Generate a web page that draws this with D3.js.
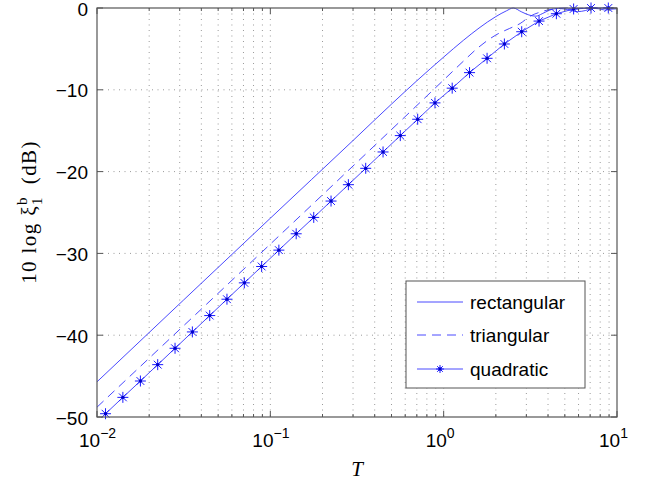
<!DOCTYPE html>
<html lang="en">
<head>
    <meta charset="UTF-8">
    <title>Reconstructed chart</title>
    <script src="https://d3js.org/d3.v7.min.js"></script>
    <style>
        body { margin: 0; background: #fff; }
        .grid line { stroke: #9a9a9a; stroke-width: 1; stroke-dasharray: 1,4.5; }
        .tick-label { font-family: "Liberation Sans", Arial, sans-serif; font-size: 19px; fill: #000; }
        .series { fill: none; stroke: #2a2aff; stroke-width: 1; stroke-opacity: 0.85; }
        .legend-text { font-family: "Liberation Sans", Arial, sans-serif; font-size: 19px; fill: #000; }
    </style>
</head>
<body>
    <svg width="657" height="484"></svg>
    <script>
        // data: T and 10log xi (dB)
        const rectT  = [0.01, 0.1, 0.3, 0.5, 0.7, 1.0, 1.3, 1.6, 2.0, 2.3, 2.52, 2.8, 3.1, 3.4, 3.7, 4.1, 4.6, 5.2, 5.9, 6.6, 7.2, 7.9, 8.5, 9.2, 10];
        const rectDB = [-45.7, -25.7, -16.2, -11.75, -8.9, -6.0, -3.95, -2.45, -1.05, -0.35, 0, -0.45, -0.85, -1.0, -0.7, -0.25, -0.05, -0.2, -0.45, -0.3, -0.05, -0.1, -0.25, -0.15, -0.1];

        const triT  = [0.01, 1.0, 1.3, 1.55, 2.0, 2.4, 2.76, 3.16, 3.6, 4.2, 5.0, 6.0, 7.0, 10];
        const triDB = [-48.8, -8.8, -6.5, -5.0, -3.3, -2.5, -1.9, -1.0, -0.5, -0.15, 0, -0.05, 0, 0];

        const quadT  = [0.0112, 0.0141, 0.0178, 0.0224, 0.0282, 0.0355, 0.0447, 0.0562, 0.0708, 0.0891,
                        0.112, 0.141, 0.178, 0.224, 0.282, 0.355, 0.447, 0.562, 0.708, 0.891,
                        1.12, 1.41, 1.78, 2.24, 2.82, 3.55, 4.47, 5.62, 7.08, 8.91];
        const quadDB = [-49.6, -47.6, -45.6, -43.6, -41.6, -39.6, -37.6, -35.6, -33.6, -31.6,
                        -29.6, -27.6, -25.6, -23.6, -21.6, -19.6, -17.6, -15.6, -13.6, -11.6,
                        -9.8, -7.9, -6.15, -4.4, -2.9, -1.6, -0.7, -0.12, 0, 0];

        const yTicks = [0, -10, -20, -30, -40, -50];
        const xDecades = [0.01, 0.1, 1, 10];
        const xExp = ["\u22122", "\u22121", "0", "1"];
        const legendNames = ["rectangular", "triangular", "quadratic"];

        const svg = d3.select("svg");
        const pLeft = 97, pRight = 617, pTop = 8, pBottom = 417;

        const x = d3.scaleLog().domain([0.01, 10]).range([pLeft, pRight]);
        const y = d3.scaleLinear().domain([-50, 0]).range([pBottom, pTop]);

        // minor positions 2..9 in each decade
        const minor = [];
        xDecades.slice(0, 3).forEach(d => {
            for (let k = 2; k <= 9; k++) minor.push(d * k);
        });

        // grid
        const grid = svg.append("g").attr("class", "grid");
        grid.selectAll(".vx").data(minor.concat([0.1, 1])).enter().append("line")
            .attr("x1", d => x(d)).attr("x2", d => x(d))
            .attr("y1", pTop).attr("y2", pBottom);
        grid.selectAll(".hy").data(yTicks.slice(1, 5)).enter().append("line")
            .attr("x1", pLeft).attr("x2", pRight)
            .attr("y1", d => y(d)).attr("y2", d => y(d));

        // clip for the curves
        svg.append("clipPath").attr("id", "clip")
            .append("rect").attr("x", pLeft).attr("y", pTop - 2)
            .attr("width", pRight - pLeft).attr("height", pBottom - pTop + 4);

        const line = d3.line().x(d => x(d[0])).y(d => y(d[1]));
        const plot = svg.append("g").attr("clip-path", "url(#clip)");

        plot.append("path").attr("class", "series")
            .attr("d", line.curve(d3.curveMonotoneX)(d3.zip(rectT, rectDB)));
        plot.append("path").attr("class", "series")
            .attr("stroke-dasharray", "9,6")
            .attr("d", line(d3.zip(triT, triDB)));
        plot.append("path").attr("class", "series")
            .attr("d", line.curve(d3.curveLinear)(d3.zip(quadT, quadDB)));

        function star(g, cx, cy, r) {
            const s = g.append("g").attr("transform", `translate(${cx},${cy})`)
                .attr("stroke", "#1a1aff").attr("stroke-width", 1);
            const q = r * 0.707;
            s.append("line").attr("x1", -r).attr("x2", r).attr("y1", 0).attr("y2", 0);
            s.append("line").attr("x1", 0).attr("x2", 0).attr("y1", -r).attr("y2", r);
            s.append("line").attr("x1", -q).attr("x2", q).attr("y1", -q).attr("y2", q);
            s.append("line").attr("x1", -q).attr("x2", q).attr("y1", q).attr("y2", -q);
            s.append("circle").attr("r", 1.7).attr("fill", "#0000cc").attr("stroke", "none");
        }
        const marks = svg.append("g");
        quadT.forEach((t, i) => star(marks, x(t), y(quadDB[i]), 5.5));

        // axes box
        svg.append("rect").attr("x", pLeft).attr("y", pTop)
            .attr("width", pRight - pLeft).attr("height", pBottom - pTop)
            .attr("fill", "none").attr("stroke", "#555").attr("stroke-width", 1.2);

        const ticks = svg.append("g").attr("stroke", "#555").attr("stroke-width", 1);
        yTicks.forEach(v => {
            ticks.append("line").attr("x1", pLeft).attr("x2", pLeft + 6).attr("y1", y(v)).attr("y2", y(v));
            ticks.append("line").attr("x1", pRight).attr("x2", pRight - 6).attr("y1", y(v)).attr("y2", y(v));
        });
        xDecades.forEach(v => {
            ticks.append("line").attr("x1", x(v)).attr("x2", x(v)).attr("y1", pBottom).attr("y2", pBottom - 6);
            ticks.append("line").attr("x1", x(v)).attr("x2", x(v)).attr("y1", pTop).attr("y2", pTop + 6);
        });
        minor.forEach(v => {
            ticks.append("line").attr("x1", x(v)).attr("x2", x(v)).attr("y1", pBottom).attr("y2", pBottom - 3);
            ticks.append("line").attr("x1", x(v)).attr("x2", x(v)).attr("y1", pTop).attr("y2", pTop + 3);
        });

        // y tick labels
        svg.append("g").selectAll("text").data(yTicks).enter().append("text")
            .attr("class", "tick-label")
            .attr("x", pLeft - 9).attr("y", d => y(d) + 7.5)
            .attr("text-anchor", "end")
            .text(d => d === 0 ? "0" : "\u2212" + Math.abs(d));

        // x tick labels 10^n
        xDecades.forEach((v, i) => {
            const t = svg.append("text").attr("class", "tick-label")
                .attr("x", x(v) - 18).attr("y", 447);
            t.append("tspan").text("10");
            t.append("tspan").attr("dy", -9).attr("font-size", 14).text(xExp[i]);
        });

        // axis titles
        svg.append("text").attr("x", 357).attr("y", 476)
            .attr("text-anchor", "middle")
            .attr("font-family", "Liberation Serif, serif").attr("font-style", "italic")
            .attr("font-size", 21).text("T");

        const yl = svg.append("text")
            .attr("transform", "translate(36,212) rotate(-90)")
            .attr("text-anchor", "middle")
            .attr("font-family", "Liberation Serif, serif").attr("font-size", 21)
            .attr("letter-spacing", 1.4);
        yl.append("tspan").text("10 log \u03be");
        yl.append("tspan").attr("dy", -9).attr("font-size", 15).text("b");
        yl.append("tspan").attr("dx", -9).attr("dy", 15).attr("font-size", 15).text("1");
        yl.append("tspan").attr("dy", -6).text("\u2002(dB)");

        // legend
        const lg = svg.append("g");
        lg.append("rect").attr("x", 406).attr("y", 281).attr("width", 179).attr("height", 107)
            .attr("fill", "#fff").attr("stroke", "#555").attr("stroke-width", 1);
        const ly = [302, 335, 369];
        legendNames.forEach((name, i) => {
            const l = lg.append("line").attr("class", "series")
                .attr("x1", 417).attr("x2", 463).attr("y1", ly[i]).attr("y2", ly[i]);
            if (i === 1) l.attr("stroke-dasharray", "9,6");
            if (i === 2) star(lg, 440, ly[i], 4);
            lg.append("text").attr("class", "legend-text")
                .attr("x", 470).attr("y", ly[i] + 7).text(name);
        });
    </script>
</body>
</html>
